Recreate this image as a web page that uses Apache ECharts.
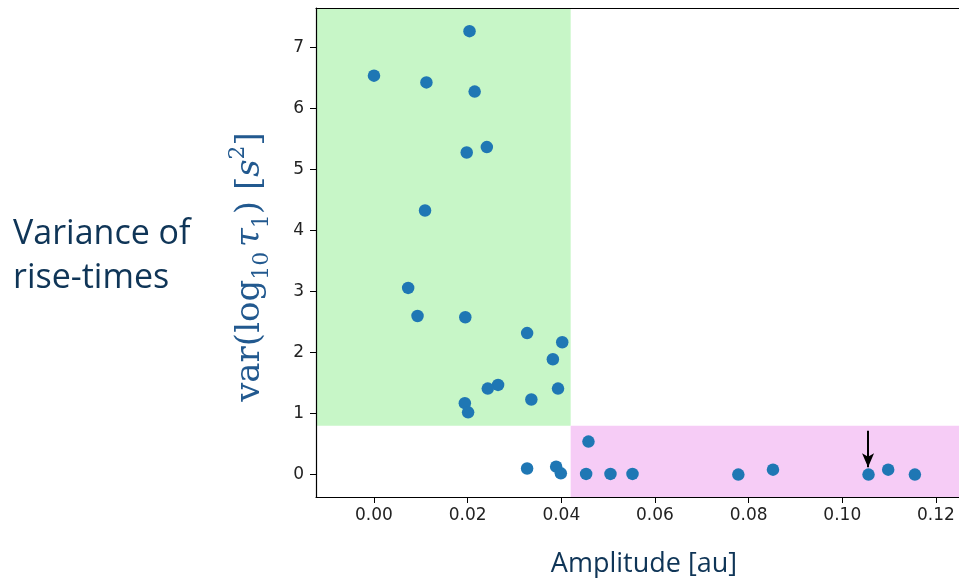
<!DOCTYPE html>
<html>
<head>
<meta charset="utf-8">
<script src="https://cdn.jsdelivr.net/npm/echarts@6/dist/echarts.min.js"></script>
<style>
html,body{margin:0;padding:0;background:#fff;}
#chart{width:959px;height:578px;}
</style>
</head>
<body>
<div id="chart"></div>
<script>
// ---- data ----
const ampX = [0.0204, 0.0000, 0.0112, 0.0215, 0.0241, 0.0198, 0.0109, 0.0073, 0.0093, 0.0195,
              0.0327, 0.0402, 0.0382, 0.0265, 0.0243, 0.0393, 0.0336, 0.0194, 0.0201, 0.0327,
              0.0389, 0.0399, 0.0458, 0.0453, 0.0505, 0.0552, 0.0778, 0.0852, 0.1056, 0.1098, 0.1155];
const varY = [7.27, 6.54, 6.43, 6.28, 5.37, 5.28, 4.33, 3.06, 2.60, 2.58,
              2.32, 2.17, 1.89, 1.47, 1.41, 1.41, 1.23, 1.17, 1.02, 0.10,
              0.13, 0.02, 0.54, 0.01, 0.01, 0.01, 0.00, 0.08, 0.00, 0.08, 0.00];
const xTicks = [0.00, 0.02, 0.04, 0.06, 0.08, 0.10, 0.12];
const yTicks = [0, 1, 2, 3, 4, 5, 6, 7];
const xMin = -0.01238, xMax = 0.12492;
const yMin = -0.368, yMax = 7.65;
const splitX = 0.042, splitY = 0.8;
const arrowX = 0.1055, arrowFrom = 0.72, arrowTo = 0.12;

const points = ampX.map((x, i) => [x, varY[i]]);

const chart = echarts.init(document.getElementById('chart'), null, {renderer: 'canvas'});
const tickFont = {fontFamily: 'DejaVu Sans', fontSize: 17, color: '#222'};
chart.setOption({
  animation: false,
  backgroundColor: '#fff',
  grid: {left: 316, top: 8, bottom: 81, right: 0, show: false},
  xAxis: [{
    type: 'value', min: xMin, max: xMax, z: 10,
    splitLine: {show: false},
    axisLine: {show: true, onZero: false, lineStyle: {color: '#000', width: 1.2}},
    axisTick: {show: true, customValues: xTicks, length: 6, lineStyle: {color: '#000', width: 1}},
    axisLabel: Object.assign({customValues: xTicks, margin: 10, formatter: v => v.toFixed(2)}, tickFont)
  }, {
    type: 'value', position: 'top', min: xMin, max: xMax, z: 10,
    splitLine: {show: false},
    axisLine: {show: true, onZero: false, lineStyle: {color: '#000', width: 1.2}},
    axisTick: {show: false}, axisLabel: {show: false}
  }],
  yAxis: {
    type: 'value', min: yMin, max: yMax, z: 10,
    splitLine: {show: false},
    axisLine: {show: true, onZero: false, lineStyle: {color: '#000', width: 1.2}},
    axisTick: {show: true, customValues: yTicks, length: 6, lineStyle: {color: '#000', width: 1}},
    axisLabel: Object.assign({customValues: yTicks, margin: 12, formatter: v => String(v)}, tickFont)
  },
  series: [{
    type: 'scatter', z: -1, data: [], silent: true,
    markArea: {
      silent: true,
      data: [
        [{coord: [xMin, splitY], itemStyle: {color: '#c7f6c7'}}, {coord: [splitX, yMax]}],
        [{coord: [splitX, yMin], itemStyle: {color: '#f6ccf6'}}, {coord: [xMax, splitY]}]
      ]
    }
  }, {
    type: 'scatter', z: 3,
    data: points,
    symbolSize: 12.5,
    itemStyle: {color: '#1f77b4', opacity: 1},
    emphasis: {disabled: true},
    markLine: {
      silent: true,
      symbol: ['none', 'arrow'],
      symbolSize: [9, 14],
      label: {show: false},
      lineStyle: {color: '#000', width: 2, type: 'solid'},
      data: [[{coord: [arrowX, arrowFrom]}, {coord: [arrowX, arrowTo]}]]
    }
  }],
  graphic: [{
    type: 'text', left: 13, top: 212,
    style: {text: 'Variance of\nrise-times', fontFamily: 'Open Sans', fontSize: 34, lineHeight: 44, fill: '#0f3557'}
  }, {
    type: 'text', x: 644, y: 564,
    style: {text: 'Amplitude [au]', fontFamily: 'Open Sans', fontSize: 27, fill: '#0f3557', align: 'center', verticalAlign: 'middle'}
  }, {
    type: 'text', x: 250, y: 267, rotation: Math.PI / 2,
    style: {
      text: '{m|var(log}{s|10}{t| }{i|τ}{s|1}{m|) [}{i|s}{p|2}{m|]}',
      align: 'center', verticalAlign: 'middle', fill: '#22598f',
      rich: {
        m: {fontFamily: 'DejaVu Serif', fontSize: 34, lineHeight: 46, verticalAlign: 'middle', fill: '#22598f'},
        t: {fontFamily: 'DejaVu Serif', fontSize: 15, lineHeight: 46, verticalAlign: 'middle', fill: '#22598f'},
        i: {fontFamily: 'DejaVu Serif', fontStyle: 'italic', fontSize: 34, lineHeight: 46, verticalAlign: 'middle', fill: '#22598f'},
        s: {fontFamily: 'DejaVu Serif', fontSize: 22, lineHeight: 46, verticalAlign: 'bottom', fill: '#22598f'},
        p: {fontFamily: 'DejaVu Serif', fontSize: 22, lineHeight: 46, verticalAlign: 'top', fill: '#22598f'}
      }
    }
  }]
});
</script>
</body>
</html>
